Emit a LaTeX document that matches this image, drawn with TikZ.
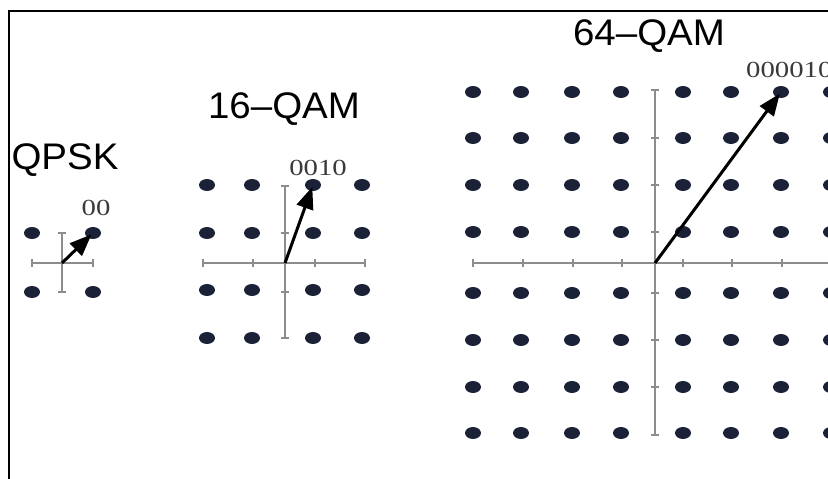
\documentclass[tikz,border=0pt]{standalone}
\usepackage{fontspec}
\setmainfont{Liberation Serif}
\newfontfamily\titlefont[FakeStretch=1.04]{Liberation Sans}
\newfontfamily\bitfont[FakeStretch=1.25]{Liberation Serif}
\usetikzlibrary{arrows.meta,shapes.geometric}

\definecolor{dotblue}{HTML}{1B2238}
\definecolor{axisgray}{HTML}{8C8C8C}
\definecolor{bitgray}{HTML}{3A3A3A}

\tikzset{
  constdot/.style={ellipse, fill=dotblue, inner sep=0pt, minimum width=16pt, minimum height=12pt},
  axisline/.style={axisgray, line width=1.6pt},
  tickmark/.style={axisgray, line width=1.2pt},
  vect/.style={-{Triangle[length=22pt,width=17pt]}, line width=3pt, shorten >=2pt},
  title/.style={font=\titlefont\fontsize{37}{40}\selectfont, inner sep=0pt},
  bits/.style={font=\bitfont\fontsize{23}{25}\selectfont, text=bitgray, inner sep=0pt},
}

\begin{document}
\begin{tikzpicture}[x=1pt, y=-1pt]
    \useasboundingbox (0,0) rectangle (828,479);
    \clip (0,0) rectangle (828,479);

    % keret
    \draw[line width=2pt] (9,479) -- (9,11) -- (828,11);

    % QPSK
    \coordinate (o4) at (62,263);
    \draw[axisline] (32,263) -- (93,263);
    \draw[axisline] (62,233) -- (62,292);
    \foreach \x in {32,93} \draw[tickmark] (\x,259) -- (\x,267);
    \foreach \y in {233,292} \draw[tickmark] (58,\y) -- (66,\y);
    \foreach \x [count=\i] in {32,93}
      \foreach \y [count=\j] in {233,292}
        \node[constdot] (d4-\i-\j) at (\x,\y) {};
    \draw[vect] (o4) -- (d4-2-1.center);
    \node[title] (tQPSK) at (65,160) {QPSK};
    \node[bits] (b4) at (96,208) {00};

    % 16-QAM
    \coordinate (o16) at (285,263);
    \draw[axisline] (203,263) -- (365,263);
    \draw[axisline] (285,186) -- (285,338);
    \foreach \x in {203,253,315,365} \draw[tickmark] (\x,259) -- (\x,267);
    \foreach \y in {186,233,292,338} \draw[tickmark] (281,\y) -- (289,\y);
    \foreach \x [count=\i] in {207,252,313,362}
      \foreach \y [count=\j] in {185,233,290,338}
        \node[constdot] (d16-\i-\j) at (\x,\y) {};
    \draw[vect] (o16) -- (d16-3-1.center);
    \node[title] (t16) at (284,109) {16–QAM};
    \node[bits] (b16) at (318,168) {0010};

    % 64-QAM
    \coordinate (o64) at (655,263);
    \draw[axisline] (473,263) -- (840,263);
    \draw[axisline] (655,90) -- (655,435);
    \foreach \x in {473,523,573,622,683,732,782} \draw[tickmark] (\x,259) -- (\x,267);
    \foreach \y in {90,138,185,232,293,340,387,435} \draw[tickmark] (651,\y) -- (659,\y);
    \foreach \x [count=\i] in {473,521,572,621,683,731,781,831}
      \foreach \y [count=\j] in {92,138,185,232,293,340,387,433}
        \node[constdot] (d64-\i-\j) at (\x,\y) {};
    \draw[vect] (o64) -- (d64-7-1.center);
    \node[title] (t64) at (649,36) {64–QAM};
    \node[bits, anchor=west] (b64) at (746,70) {000010};
\end{tikzpicture}
\end{document}
